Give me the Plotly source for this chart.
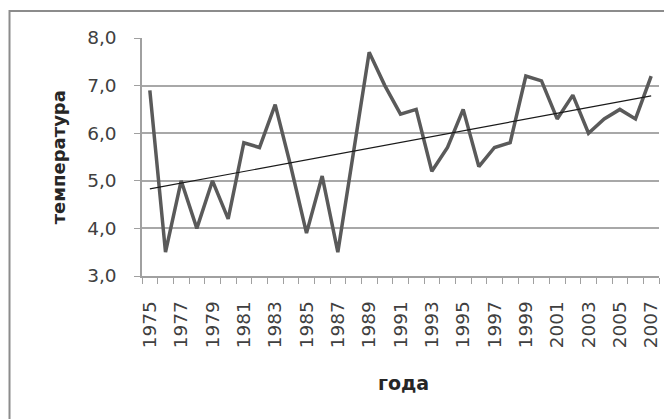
import numpy as np
import plotly.graph_objects as go

years = list(range(1975, 2008))
temps = [6.9, 3.5, 5.0, 4.0, 5.0, 4.2, 5.8, 5.7, 6.6, 5.3, 3.9, 5.1, 3.5, 5.6, 7.7,
         7.0, 6.4, 6.5, 5.2, 5.7, 6.5, 5.3, 5.7, 5.8, 7.2, 7.1, 6.3, 6.8, 6.0, 6.3,
         6.5, 6.3, 7.2]
x_tick_labels = [str(y) for y in range(1975, 2008, 2)]
y_tick_values = [3, 4, 5, 6, 7, 8]
y_tick_labels = ["3,0", "4,0", "5,0", "6,0", "7,0", "8,0"]
x_title = "года"
y_title = "температура"

OFF = 8  # page body margin
W, H = 672 - OFF, 419 - OFF
L, R, T, B = 142 - OFF, 11, 38 - OFF, 143
pw, ph = W - L - R, H - T - B


def px_x(px):
    return (px - OFF - L) / pw


def px_y(py):
    return (H - B - (py - OFF)) / ph


coef = np.polyfit(years, temps, 1)
trend = [float(np.polyval(coef, y)) for y in years]

fig = go.Figure()
fig.add_trace(go.Scatter(x=years, y=temps, mode="lines",
                         line=dict(color="#5a5a5a", width=3.5), hoverinfo="skip"))
fig.add_trace(go.Scatter(x=years, y=trend, mode="lines",
                         line=dict(color="#1a1a1a", width=1.2), hoverinfo="skip"))

minor_vals = [y - 0.5 for y in years] + [years[-1] + 0.5]

fig.update_layout(
    width=W, height=H,
    margin=dict(l=L, r=R, t=T, b=B),
    paper_bgcolor="white", plot_bgcolor="white",
    showlegend=False,
    font=dict(family="DejaVu Sans", size=18, color="#404040"),
    xaxis=dict(
        range=[years[0] - 0.5, years[-1] + 0.5],
        tickmode="array",
        tickvals=[int(t) for t in x_tick_labels],
        ticktext=x_tick_labels,
        tickangle=-90,
        ticks="",
        ticklabelstandoff=16,
        showgrid=False,
        zeroline=False,
        showline=True, linecolor="#a0a0a0", linewidth=1.5,
        minor=dict(tickmode="array", tickvals=minor_vals, ticks="outside",
                   ticklen=6, tickcolor="#a0a0a0", tickwidth=1.2, showgrid=False),
        tickfont=dict(size=18.5, color="#404040"),
    ),
    yaxis=dict(
        range=[3, 8],
        tickmode="array",
        tickvals=y_tick_values,
        ticktext=y_tick_labels,
        ticks="outside", ticklen=6, tickcolor="#a0a0a0", tickwidth=1.2,
        ticklabelstandoff=14,
        showgrid=True, gridcolor="#a8a8a8", gridwidth=1.6,
        zeroline=False,
        showline=True, linecolor="#a0a0a0", linewidth=1.5,
        tickfont=dict(size=18.5, color="#404040"),
    ),
    shapes=[dict(type="rect", xref="paper", yref="paper",
                 x0=px_x(9), x1=px_x(700),
                 y0=px_y(440), y1=px_y(11),
                 line=dict(color="#8c8c8c", width=2), layer="below")],
    annotations=[
        dict(text="<b>" + y_title + "</b>", xref="paper", yref="paper",
             x=px_x(58), y=px_y(157), textangle=-90,
             showarrow=False, font=dict(size=18, color="#262626"),
             xanchor="center", yanchor="middle"),
        dict(text="<b>" + x_title + "</b>", xref="paper", yref="paper",
             x=px_x(405), y=px_y(383),
             showarrow=False, font=dict(size=19, color="#262626"),
             xanchor="center", yanchor="middle"),
    ],
)

fig.write_html("out.html")
